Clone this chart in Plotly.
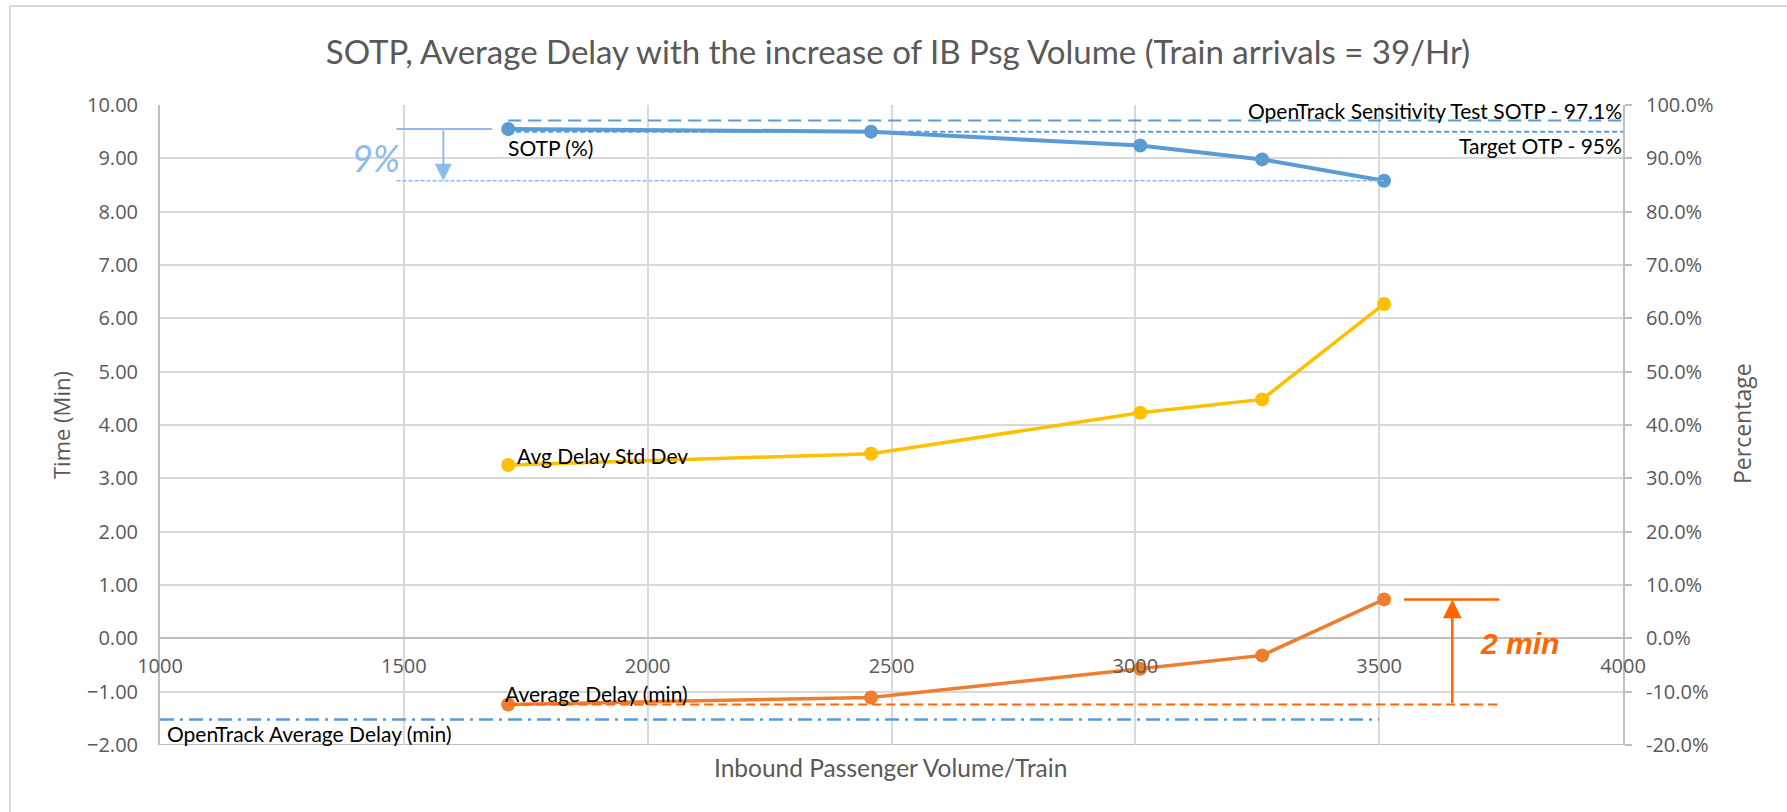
import plotly.graph_objects as go

# Inbound passenger volume per train for each simulation run
psg_volume = [1714, 2458, 3010, 3260, 3510]

# Results per run
sotp_pct = [0.955, 0.950, 0.924, 0.898, 0.858]          # right axis (fraction)
avg_delay_std = [3.25, 3.46, 4.23, 4.48, 6.27]            # left axis (min)
avg_delay = [-1.24, -1.11, -0.57, -0.32, 0.73]            # left axis (min)

# Reference levels
opentrack_sotp = 0.971
target_otp = 0.95
opentrack_avg_delay = -1.52

x_ticks = [1000, 1500, 2000, 2500, 3000, 3500, 4000]
left_ticks = list(range(-2, 11))
right_ticks = [v / 10 for v in range(-2, 11)]
right_tick_text = [f"{v * 100:.1f}%" for v in right_ticks]

# Plot-area geometry in pixels, for placing free text
W, H = 1787, 812
L, R, T, B = 160, 1623, 105, 745


def px_x(p):
    return (p - L) / (R - L)


def px_y(p):
    return (B - p) / (B - T)


BLUE = "#5B9BD5"
YELLOW = "#FFC000"
ORANGE = "#ED7D31"
HILITE = "#FF6600"
LIGHT_BLUE = "#8DBBEE"
GRID = "#D9D9D9"
AXIS = "#BFBFBF"
TXT = "#595959"
TICK_FONT = dict(family="Open Sans", size=20, color=TXT)
LABEL_FONT = dict(family="Lato", size=21, color="#000000")

fig = go.Figure()

# Data series
fig.add_trace(go.Scatter(
    x=psg_volume, y=sotp_pct, yaxis="y2", mode="lines+markers",
    line=dict(color=BLUE, width=4), marker=dict(color=BLUE, size=14),
    name="SOTP (%)"))
fig.add_trace(go.Scatter(
    x=psg_volume, y=avg_delay_std, mode="lines+markers",
    line=dict(color=YELLOW, width=3.5), marker=dict(color=YELLOW, size=14),
    name="Avg Delay Std Dev"))
fig.add_trace(go.Scatter(
    x=psg_volume, y=avg_delay, mode="lines+markers",
    line=dict(color=ORANGE, width=3.5), marker=dict(color=ORANGE, size=14),
    name="Average Delay (min)"))

shapes = []
# Chart-area border (only the top and left edges fall inside the page)
shapes.append(dict(type="line", xref="paper", yref="paper",
                   x0=px_x(10), x1=px_x(W), y0=px_y(6), y1=px_y(6),
                   line=dict(color=GRID, width=2), layer="below"))
shapes.append(dict(type="line", xref="paper", yref="paper",
                   x0=px_x(10), x1=px_x(10), y0=px_y(6), y1=px_y(H),
                   line=dict(color=GRID, width=2), layer="below"))
# Bottom edge of the plot area
shapes.append(dict(type="line", xref="paper", yref="y", x0=0, x1=1, y0=-2, y1=-2,
                   line=dict(color=AXIS, width=2), layer="below"))

# Reference lines
shapes.append(dict(type="line", xref="x", yref="y2",
                   x0=psg_volume[0], x1=4000, y0=opentrack_sotp, y1=opentrack_sotp,
                   line=dict(color=BLUE, width=2, dash="13px,7px")))
shapes.append(dict(type="line", xref="x", yref="y2",
                   x0=psg_volume[0], x1=4000, y0=target_otp, y1=target_otp,
                   line=dict(color=BLUE, width=2, dash="5px,3px")))
shapes.append(dict(type="line", xref="x", yref="y",
                   x0=1000, x1=3500, y0=opentrack_avg_delay, y1=opentrack_avg_delay,
                   line=dict(color=BLUE, width=2.5, dash="14px,6px,3px,6px")))

# SOTP drop bracket
shapes.append(dict(type="line", xref="x", yref="y2",
                   x0=1485, x1=1681, y0=sotp_pct[0], y1=sotp_pct[0],
                   line=dict(color=LIGHT_BLUE, width=2)))
shapes.append(dict(type="line", xref="x", yref="y2",
                   x0=1485, x1=psg_volume[-1], y0=sotp_pct[-1], y1=sotp_pct[-1],
                   line=dict(color=LIGHT_BLUE, width=1.5, dash="4px,2px")))

# Average delay increase bracket
shapes.append(dict(type="line", xref="x", yref="y",
                   x0=psg_volume[0], x1=3746, y0=avg_delay[0], y1=avg_delay[0],
                   line=dict(color=HILITE, width=2, dash="9px,5px")))
shapes.append(dict(type="line", xref="x", yref="y",
                   x0=3551, x1=3746, y0=avg_delay[-1], y1=avg_delay[-1],
                   line=dict(color=HILITE, width=2.5)))

annotations = []
# Arrows
annotations.append(dict(xref="x", yref="y2", axref="x", ayref="y2",
                        x=1581, y=sotp_pct[-1], ax=1581, ay=sotp_pct[0],
                        showarrow=True, arrowhead=2, arrowsize=1.7, arrowwidth=2,
                        arrowcolor=LIGHT_BLUE, text=""))
annotations.append(dict(xref="x", yref="y", axref="x", ayref="y",
                        x=3650, y=avg_delay[-1], ax=3650, ay=avg_delay[0],
                        showarrow=True, arrowhead=2, arrowsize=1.5, arrowwidth=2.5,
                        arrowcolor=HILITE, text=""))

# Bracket labels
annotations.append(dict(xref="paper", yref="paper", x=px_x(376), y=px_y(158),
                        text="<i>9%</i>", showarrow=False,
                        font=dict(family="Lato", size=36, color=LIGHT_BLUE),
                        xanchor="center", yanchor="middle"))
annotations.append(dict(xref="paper", yref="paper", x=px_x(1478), y=px_y(643),
                        text="<b><i>2 min</i></b>", showarrow=False,
                        font=dict(family="Liberation Sans", size=30, color=HILITE),
                        xanchor="left", yanchor="middle"))

# Series / reference labels
def label(text, x, y, anchor="left"):
    annotations.append(dict(xref="paper", yref="paper", x=px_x(x), y=px_y(y),
                            text=text, showarrow=False, font=LABEL_FONT,
                            xanchor=anchor, yanchor="middle"))


label("SOTP (%)", 506, 148)
label("Avg Delay Std Dev", 515, 455)
label("Average Delay (min)", 503, 693)
label("OpenTrack Average Delay (min)", 165, 733)
label("OpenTrack Sensitivity Test SOTP - 97.1%", 1624, 110, "right")
label("Target OTP - 95%", 1624, 145, "right")

# Axis titles
annotations.append(dict(xref="paper", yref="paper", x=px_x(890), y=px_y(767),
                        text="Inbound Passenger Volume/Train", showarrow=False,
                        font=dict(family="Lato", size=24.5, color=TXT),
                        xanchor="center", yanchor="middle"))
annotations.append(dict(xref="paper", yref="paper", x=px_x(61), y=px_y(425),
                        text="Time (Min)", showarrow=False, textangle=-90,
                        font=dict(family="Open Sans", size=22, color=TXT),
                        xanchor="center", yanchor="middle"))
annotations.append(dict(xref="paper", yref="paper", x=px_x(1742), y=px_y(424),
                        text="Percentage", showarrow=False, textangle=-90,
                        font=dict(family="Open Sans", size=23, color=TXT),
                        xanchor="center", yanchor="middle"))

fig.update_layout(
    width=W, height=H,
    margin=dict(l=L, r=W - R, t=T, b=H - B),
    paper_bgcolor="white", plot_bgcolor="white",
    showlegend=False,
    title=dict(text="SOTP, Average Delay with the increase of IB Psg Volume (Train arrivals = 39/Hr)",
               x=898 / W, y=1 - 52 / H, xref="container", yref="container",
               xanchor="center", yanchor="middle",
               font=dict(family="Lato", size=33, color=TXT)),
    xaxis=dict(range=[1000, 4000], tickvals=x_ticks, showgrid=True,
               gridcolor=GRID, gridwidth=1.5, zeroline=False, showline=False,
               anchor="free", position=1 / 6, ticks="", ticklabelstandoff=14,
               tickfont=TICK_FONT),
    yaxis=dict(range=[-2, 10], tickvals=left_ticks, tickformat=".2f",
               showgrid=True, gridcolor=GRID, gridwidth=1.5,
               zeroline=True, zerolinecolor=AXIS, zerolinewidth=2,
               showline=True, linecolor=AXIS, linewidth=2,
               ticks="", ticklabelstandoff=16, tickfont=TICK_FONT),
    yaxis2=dict(range=[-0.2, 1.0], tickvals=right_ticks, ticktext=right_tick_text,
                overlaying="y", side="right", showgrid=False, zeroline=False,
                showline=True, linecolor=AXIS, linewidth=2,
                ticks="outside", ticklen=7, tickcolor=AXIS, tickwidth=2,
                ticklabelstandoff=10, tickfont=TICK_FONT),
    shapes=shapes,
    annotations=annotations,
)

fig.write_html("out.html")
